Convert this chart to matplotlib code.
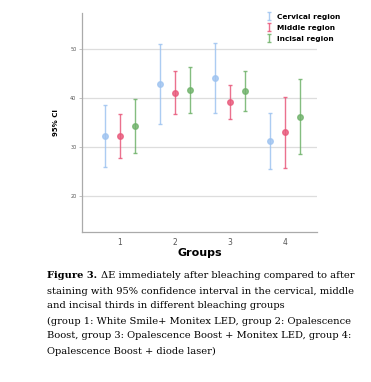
import numpy as np
import matplotlib.pyplot as plt

groups = [1, 2, 3, 4]
regions = ['Cervical region', 'Middle region', 'Incisal region']
colors = ['#9ec3f0', '#e8587a', '#6fb26a']

# mean, lower, upper of 95% CI per region (groups 1..4)
cervical_mean = [32.3, 42.8, 44.1, 31.3]
cervical_low = [26.0, 34.8, 37.0, 25.6]
cervical_high = [38.6, 51.0, 51.2, 36.9]

middle_mean = [32.3, 41.0, 39.1, 33.0]
middle_low = [27.9, 36.7, 35.8, 25.7]
middle_high = [36.7, 45.5, 42.6, 40.3]

incisal_mean = [34.3, 41.6, 41.5, 36.2]
incisal_low = [28.8, 37.0, 37.3, 28.6]
incisal_high = [39.9, 46.3, 45.6, 43.8]

series = [
    (cervical_mean, cervical_low, cervical_high),
    (middle_mean, middle_low, middle_high),
    (incisal_mean, incisal_low, incisal_high),
]
offsets = [-0.27, 0.0, 0.27]

fig = plt.figure(figsize=(3.71, 3.82), dpi=100)
ax = fig.add_axes([0.221, 0.392, 0.633, 0.574])

for (m, lo, hi), off, c, lab in zip(series, offsets, colors, regions):
    m = np.array(m)
    yerr = [m - np.array(lo), np.array(hi) - m]
    x = np.array(groups) + off
    ax.errorbar(x, m, yerr=yerr, fmt='none', ecolor=c, elinewidth=1.0,
                capsize=1.5, capthick=1.0, alpha=0.85, label=lab)
    ax.plot(x, m, 'o', color=c, markersize=4, alpha=0.8)

ax.set_xlim(0.31, 4.58)
ax.set_ylim(12.7, 57.3)
ax.set_xticks(groups)
ax.set_yticks([20, 30, 40, 50])
ax.yaxis.grid(True, color='#dddddd', linewidth=0.9)
ax.set_axisbelow(True)
for s in ['top', 'right']:
    ax.spines[s].set_visible(False)
for s in ['left', 'bottom']:
    ax.spines[s].set_color('#aaaaaa')
    ax.spines[s].set_linewidth(0.9)
ax.tick_params(axis='y', labelsize=3.5, length=2, width=0.5, pad=2, color='#aaaaaa')
ax.tick_params(axis='x', labelsize=5.5, length=0, pad=4)
for t in ax.get_yticklabels() + ax.get_xticklabels():
    t.set_color('#555555')

ax.set_xlabel('Groups', fontsize=8, fontweight='bold', labelpad=1)
ax.set_ylabel('95% CI', fontsize=5, fontweight='bold', labelpad=8)

leg = ax.legend(loc='upper right', bbox_to_anchor=(1.12, 1.02), frameon=False,
                fontsize=5.3, handlelength=0.6, handleheight=1.2, handletextpad=0.9,
                labelspacing=0.45, borderaxespad=0.2)
for t in leg.get_texts():
    t.set_fontweight('bold')

caption = [
    'ΔE immediately after bleaching compared to after',
    'staining with 95% confidence interval in the cervical, middle',
    'and incisal thirds in different bleaching groups',
    '(group 1: White Smile+ Monitex LED, group 2: Opalescence',
    'Boost, group 3: Opalescence Boost + Monitex LED, group 4:',
    'Opalescence Boost + diode laser)',
]
fs = 7.15
x0 = 47 / 371
y0 = 1 - 276 / 382
head = fig.text(x0, y0, 'Figure 3. ', fontsize=fs, family='DejaVu Serif',
                fontweight='bold', va='center', ha='left')
fig.canvas.draw()
bb = head.get_window_extent().transformed(fig.transFigure.inverted())
for i, line in enumerate(caption):
    xx = bb.x1 if i == 0 else x0
    fig.text(xx, y0 - i * 15.0 / 382, line, fontsize=fs,
             family='DejaVu Serif', va='center', ha='left')

fig.savefig('out.png', dpi=100)
